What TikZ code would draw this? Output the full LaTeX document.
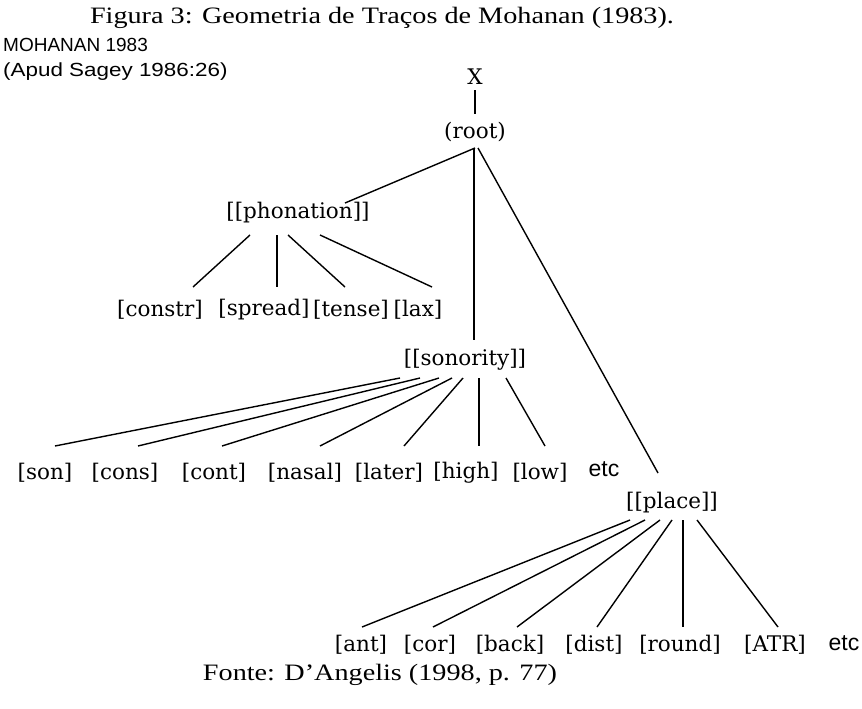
\documentclass[tikz,border=0pt]{standalone}
\usepackage{fontspec}
\usetikzlibrary{calc}
\newfontfamily\capfont[FakeStretch=1.2]{Liberation Serif}
\newfontfamily\srcfont{Liberation Sans}
\newfontfamily\widesrcfont[FakeStretch=1.18]{Liberation Sans}
\newfontfamily\treefont{DejaVu Serif}

\begin{document}
\begin{tikzpicture}[x=1pt,y=-1pt,
  feat/.style={inner sep=0pt, font=\treefont\fontsize{21.5}{24}\selectfont},
  etcnote/.style={inner sep=0pt, font=\srcfont\fontsize{23}{25}\selectfont},
  caption/.style={inner sep=0pt, font=\capfont\fontsize{23.5}{26}\selectfont},
  branch/.style={line width=1.4pt, black}]
\useasboundingbox (0,0) rectangle (862,709);

% captions
\node[caption] (title) at (382,18) {Figura 3: Geometria de Traços de Mohanan (1983).};
\node[caption] (fonte) at (380,675) {Fonte: D’Angelis (1998, p. 77)};
\node[inner sep=0pt, anchor=west, font=\srcfont\fontsize{19}{21}\selectfont] (moh) at (3,45) {MOHANAN 1983};
\node[inner sep=0pt, anchor=west, font=\widesrcfont\fontsize{19}{21}\selectfont] (apud) at (3,72) {(Apud Sagey 1986:26)};

% upper nodes
\node[feat] (X) at (475,77) {X};
\node[feat] (root) at (475,132) {(root)};
\node[feat] (phon) at (298,213) {[[phonation]]};
\node[feat] (sono) at (465,360) {[[sonority]]};
\node[feat] (place) at (672,503) {[[place]]};

% phonation features
\node[feat] (constr) at (160,310) {[constr]};
\node[feat] (spread) at (264,310) {[spread]};
\node[feat] (tense) at (351,310) {[tense]};
\node[feat] (lax) at (418,310) {[lax]};

% sonority features
\node[feat] (son) at (45,473) {[son]};
\node[feat] (cons) at (125,473) {[cons]};
\node[feat] (cont) at (214,473) {[cont]};
\node[feat] (nasal) at (305,473) {[nasal]};
\node[feat] (later) at (389,473) {[later]};
\node[feat] (high) at (466,473) {[high]};
\node[feat] (low) at (540,473) {[low]};
\node[etcnote] (etcA) at (604,469) {etc};

% place features
\node[feat] (ant) at (361,645) {[ant]};
\node[feat] (cor) at (430,645) {[cor]};
\node[feat] (back) at (510,645) {[back]};
\node[feat] (dist) at (594,645) {[dist]};
\node[feat] (round) at (680,645) {[round]};
\node[feat] (atr) at (775,645) {[ATR]};
\node[etcnote] (etcB) at (844,643) {etc};

% spine
\draw[branch] ($(X.center)+(0,13)$) -- ($(root.center)+(0,-18)$);
\draw[branch] ($(root.center)+(0,16)$) -- ($(phon.center)+(47,-10)$);
\draw[branch] ($(root.center)+(-1,16)$) -- ($(sono.center)+(9,-20)$);
\draw[branch] ($(root.center)+(3,16)$) -- ($(place.center)+(-14,-30)$);

% phonation branches
\draw[branch] ($(phon.center)+(-48,22)$) -- ($(constr.center)+(33,-23)$);
\draw[branch] ($(phon.center)+(-21,22)$) -- ($(spread.center)+(13,-23)$);
\draw[branch] ($(phon.center)+(-10,22)$) -- ($(tense.center)+(-6,-23)$);
\draw[branch] ($(phon.center)+(22,22)$) -- ($(lax.center)+(14,-23)$);

% sonority branches
\draw[branch] ($(sono.center)+(-65,18)$) -- ($(son.center)+(10,-27)$);
\draw[branch] ($(sono.center)+(-45,18)$) -- ($(cons.center)+(13,-27)$);
\draw[branch] ($(sono.center)+(-26,18)$) -- ($(cont.center)+(8,-27)$);
\draw[branch] ($(sono.center)+(-13,18)$) -- ($(nasal.center)+(15,-27)$);
\draw[branch] ($(sono.center)+(-2,18)$) -- ($(later.center)+(15,-27)$);
\draw[branch] ($(sono.center)+(14,18)$) -- ($(high.center)+(13,-27)$);
\draw[branch] ($(sono.center)+(41,18)$) -- ($(low.center)+(5,-27)$);

% place branches
\draw[branch] ($(place.center)+(-42,17)$) -- ($(ant.center)+(1,-18)$);
\draw[branch] ($(place.center)+(-27,17)$) -- ($(cor.center)+(3,-18)$);
\draw[branch] ($(place.center)+(-12,17)$) -- ($(back.center)+(7,-18)$);
\draw[branch] ($(place.center)+(0,17)$) -- ($(dist.center)+(3,-18)$);
\draw[branch] ($(place.center)+(11,17)$) -- ($(round.center)+(3,-18)$);
\draw[branch] ($(place.center)+(25,17)$) -- ($(atr.center)+(3,-18)$);
\end{tikzpicture}
\end{document}
